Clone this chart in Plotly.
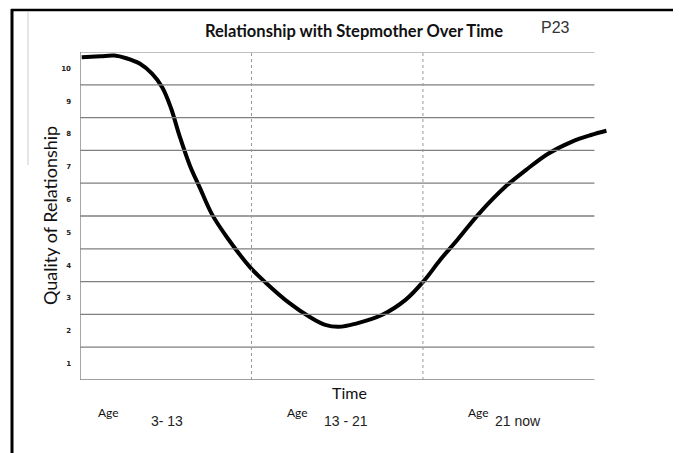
import plotly.graph_objects as go

# Hand-drawn curve (time in thirds, quality 0-10)
time_pts = [0.01, 0.12, 0.20, 0.27, 0.35, 0.42, 0.48, 0.53, 0.58, 0.64, 0.70,
            0.77, 0.86, 0.99, 1.085, 1.22, 1.34, 1.43, 1.51, 1.61, 1.76,
            1.90, 2.01, 2.10, 2.20, 2.33, 2.48, 2.60, 2.73, 2.87, 2.98, 3.07]
quality = [9.84, 9.87, 9.89, 9.81, 9.64, 9.34, 8.92, 8.30, 7.45, 6.55, 5.85,
           5.05, 4.33, 3.45, 2.96, 2.35, 1.92, 1.68, 1.62, 1.72, 1.98,
           2.45, 3.05, 3.66, 4.27, 5.09, 5.89, 6.40, 6.90, 7.27, 7.47, 7.60]

y_labels = ["1", "2", "3", "4", "5", "6", "7", "8", "9", "10"]
grid_levels = [1, 2, 3, 4, 5, 6, 7, 8, 9]
period_breaks = [1, 2]
age_words = ["Age", "Age", "Age"]
age_ranges = ["3- 13", "13 - 21", "21 now"]

# the page body adds an 8px offset, so work in screen pixels and shift back
OFF = 8
W, H = 681, 453
plot_left, plot_top, plot_bottom = 80, 52, 380
pw, ph = 535, plot_bottom - plot_top
L, T = plot_left - OFF, plot_top - OFF
R, B = W - L - pw, H - T - ph


def px(x):
    # screen pixel -> paper x
    return (x - plot_left) / pw


def py(y):
    # screen pixel -> paper y
    return (plot_bottom - y) / ph


fig = go.Figure()
fig.add_trace(go.Scatter(x=time_pts, y=quality, mode="lines",
                         line=dict(color="black", width=4, shape="spline", smoothing=1.0),
                         hoverinfo="skip", showlegend=False))

shapes = []
# horizontal rules
for g in grid_levels:
    shapes.append(dict(type="line", xref="x", yref="y", x0=0, x1=3, y0=g, y1=g,
                       line=dict(color="#7f7f7f", width=1.3)))
shapes.append(dict(type="line", xref="x", yref="y", x0=0, x1=3, y0=10, y1=10,
                   line=dict(color="#aaaaaa", width=1.5)))
shapes.append(dict(type="line", xref="x", yref="y", x0=0, x1=3, y0=0, y1=0,
                   line=dict(color="#808080", width=1.5)))
shapes.append(dict(type="line", xref="x", yref="y", x0=0, x1=0, y0=0, y1=10,
                   line=dict(color="#8a8a8a", width=1.5)))
# dotted period dividers
for b in period_breaks:
    shapes.append(dict(type="line", xref="x", yref="y", x0=b, x1=b, y0=0, y1=10,
                       line=dict(color="#999999", width=1, dash="dot")))
# page border of the scanned form
shapes.append(dict(type="line", xref="paper", yref="paper", x0=px(12), x1=px(12),
                   y0=py(9), y1=py(470), line=dict(color="black", width=3)))
shapes.append(dict(type="line", xref="paper", yref="paper", x0=px(11), x1=px(676),
                   y0=py(10), y1=py(10), line=dict(color="black", width=2.5)))
shapes.append(dict(type="line", xref="paper", yref="paper", x0=px(675), x1=px(675),
                   y0=py(9), y1=py(470), line=dict(color="black", width=2.5)))
shapes.append(dict(type="line", xref="paper", yref="paper", x0=px(28), x1=px(28),
                   y0=py(11), y1=py(165), line=dict(color="#cccccc", width=1)))

annotations = [
    dict(text="<b>Relationship with Stepmother Over Time</b>", x=px(354), y=py(31),
         font=dict(family="Lato", size=16.5, color="#111")),
    dict(text="P23", x=px(555), y=py(28),
         font=dict(family="Liberation Sans", size=16, color="#333")),
    dict(text="Time", x=px(350), y=py(392),
         font=dict(family="Lato", size=16, color="#111")),
    dict(text="Quality of Relationship", x=px(50), y=py(216), textangle=-90,
         font=dict(family="Lato", size=18, color="#111")),
]
age_x = [108, 297, 478]
range_x = [167, 346, 518]
for ax_, rx, w, r in zip(age_x, range_x, age_words, age_ranges):
    annotations.append(dict(text=w, x=px(ax_), y=py(412),
                            font=dict(family="Lato", size=12, color="#111")))
    annotations.append(dict(text=r, x=px(rx), y=py(421),
                            font=dict(family="Liberation Sans", size=14, color="#222")))
for a in annotations:
    a.update(xref="paper", yref="paper", showarrow=False, xanchor="center", yanchor="middle")

fig.update_layout(
    width=W, height=H,
    margin=dict(l=L, r=R, t=T, b=B),
    paper_bgcolor="white", plot_bgcolor="white",
    shapes=shapes, annotations=annotations,
    xaxis=dict(range=[0, 3.12], showgrid=False, zeroline=False, showticklabels=False,
               showline=False),
    yaxis=dict(range=[0, 10], showgrid=False, zeroline=False, showline=False,
               tickvals=[v - 0.5 for v in range(1, 11)], ticktext=y_labels,
               tickfont=dict(family="DejaVu Sans", size=7, color="#222", weight="bold"),
               ticklabelstandoff=8),
)

fig.write_html("out.html")
